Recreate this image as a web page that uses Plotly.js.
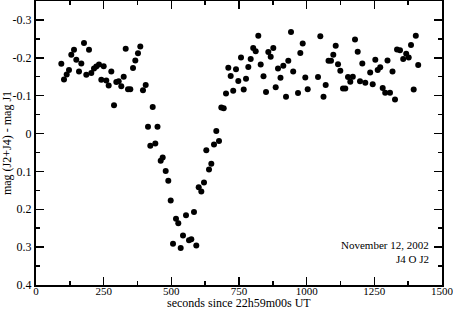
<!DOCTYPE html>
<html>
<head>
<meta charset="utf-8">
<script src="https://cdn.plot.ly/plotly-3.0.1.min.js"></script>
<style>
  body { margin: 0; background: #fff; }
  #grafico { width: 453px; height: 310px; }
</style>
</head>
<body>
<div id="grafico"></div>
<script>
// tiempo (s desde 22h59m00s UT) y diferencia de magnitud
const segundos = [
    93.5, 103.4, 113.4, 121.9, 130.4, 140.4, 148.9, 158.9, 167.4, 177.3,
    185.8, 195.8, 204.3, 214.3, 222.8, 232.8, 241.3, 250.1, 259.7, 268.6,
    278.2, 288.2, 296.7, 305.5, 315.1, 324.0, 331.4, 339.9, 348.4, 358.4,
    366.9, 376.8, 385.3, 395.3, 405.3, 413.8, 422.3, 431.2, 440.8, 448.9,
    460.7, 468.1, 479.2, 488.8, 497.7, 506.2, 517.2, 525.7, 534.6, 543.1,
    554.2, 565.3, 573.8, 583.7, 592.2, 601.1, 610.7, 620.7, 629.2, 639.2,
    647.7, 657.6, 666.1, 676.1, 684.6, 693.5, 702.0, 710.5, 719.3, 728.6,
    738.9, 747.4, 757.4, 767.4, 775.9, 784.4, 793.2, 802.5, 811.7, 821.3,
    830.2, 840.5, 849.8, 858.3, 867.1, 876.7, 885.6, 894.1, 903.3, 913.7,
    923.7, 932.1, 942.1, 950.2, 968.0, 976.5, 985.4, 994.9, 1003.8, 1041.9,
    1050.4, 1062.2, 1070.3, 1080.7, 1089.9, 1098.4, 1107.3, 1115.8, 1124.3, 1134.2,
    1142.7, 1152.7, 1161.2, 1170.5, 1178.6, 1188.6, 1197.1, 1205.6, 1216.6, 1234.7,
    1244.0, 1253.6, 1262.4, 1271.7, 1280.9, 1290.2, 1298.6, 1307.9, 1317.1, 1326.4,
    1333.8, 1344.8, 1356.7, 1367.7, 1377.0, 1385.5, 1395.4, 1403.2, 1412.1
];
const magnitudes = [
    -0.184, -0.143, -0.156, -0.168, -0.208, -0.221, -0.195, -0.164, -0.185, -0.239,
    -0.155, -0.221, -0.160, -0.172, -0.177, -0.182, -0.142, -0.178, -0.140, -0.127,
    -0.164, -0.075, -0.136, -0.138, -0.125, -0.150, -0.224, -0.117, -0.117, -0.173,
    -0.193, -0.212, -0.230, -0.114, -0.128, -0.018, 0.032, -0.070, 0.026, -0.018,
    0.072, 0.063, 0.099, 0.125, 0.177, 0.291, 0.225, 0.237, 0.302, 0.269,
    0.216, 0.282, 0.279, 0.207, 0.296, 0.142, 0.153, 0.129, 0.044, 0.095,
    0.080, 0.029, -0.007, 0.020, -0.069, -0.067, -0.106, -0.174, -0.152, -0.113,
    -0.170, -0.139, -0.201, -0.116, -0.145, -0.176, -0.197, -0.226, -0.217, -0.258,
    -0.182, -0.151, -0.110, -0.215, -0.203, -0.226, -0.122, -0.172, -0.147, -0.179,
    -0.097, -0.192, -0.268, -0.164, -0.107, -0.213, -0.238, -0.148, -0.117, -0.149,
    -0.257, -0.097, -0.128, -0.192, -0.192, -0.208, -0.232, -0.183, -0.166, -0.119,
    -0.119, -0.149, -0.137, -0.150, -0.248, -0.216, -0.138, -0.185, -0.134, -0.161,
    -0.130, -0.195, -0.168, -0.175, -0.120, -0.108, -0.193, -0.108, -0.164, -0.090,
    -0.222, -0.220, -0.197, -0.211, -0.201, -0.234, -0.116, -0.258, -0.181
];
const ticksY = [-0.3, -0.2, -0.1, 0, 0.1, 0.2, 0.3, 0.4];
const etiquetasY = ["-0.3", "-0.2", "-0.1", "0", "0.1", "0.2", "0.3", "0.4"];
const ticksX = [0, 250, 500, 750, 1000, 1250, 1500];

const fuente = { family: "Liberation Serif, Times New Roman, serif", size: 12, color: "#000" };
const fuenteX = { family: "Liberation Serif, Times New Roman, serif", size: 11, color: "#000" };

Plotly.newPlot("grafico", [
    {
        x: segundos,
        y: magnitudes,
        mode: "markers",
        type: "scatter",
        marker: { color: "#000", size: 6 },
        hoverinfo: "skip"
    }
], {
    width: 453,
    height: 310,
    margin: { l: 36, r: 11, t: 1, b: 25 },
    paper_bgcolor: "#fff",
    plot_bgcolor: "#fff",
    showlegend: false,
    font: fuente,
    xaxis: {
        range: [0, 1500],
        tickvals: ticksX,
        ticks: "inside", ticklen: 8, tickwidth: 1.5, tickcolor: "#000",
        minor: { dtick: 125, ticks: "inside", ticklen: 4, tickwidth: 1.5, tickcolor: "#000" },
        showline: true, linewidth: 2, linecolor: "#000", mirror: "ticks",
        showgrid: false, zeroline: false,
        tickfont: fuenteX,
        ticklabeloverflow: "allow",
        ticklabelstandoff: -5
    },
    yaxis: {
        range: [0.4, -0.35],
        tickvals: ticksY,
        ticktext: etiquetasY,
        ticks: "inside", ticklen: 8, tickwidth: 1.5, tickcolor: "#000",
        minor: { dtick: 0.05, ticks: "inside", ticklen: 4, tickwidth: 1.5, tickcolor: "#000" },
        showline: true, linewidth: 2, linecolor: "#000", mirror: "ticks",
        showgrid: false, zeroline: false,
        tickfont: fuente,
        ticklabeloverflow: "allow",
        title: { text: "mag (J2+J4) - mag J1", font: fuente, standoff: 2 }
    },
    annotations: [
        { text: "seconds since 22h59m00s UT", xref: "paper", yref: "paper", x: 0.5, y: -0.09,
          xanchor: "center", yanchor: "bottom", showarrow: false, borderpad: 0, font: fuente },
        { text: "November 12, 2002", xref: "paper", yref: "paper", x: 0.97, y: 0.141,
          xanchor: "right", yanchor: "middle", showarrow: false, borderpad: 0, font: fuenteX },
        { text: "J4 O J2", xref: "paper", yref: "paper", x: 0.97, y: 0.093,
          xanchor: "right", yanchor: "middle", showarrow: false, borderpad: 0, font: fuenteX }
    ]
}, { staticPlot: true });
</script>
</body>
</html>
